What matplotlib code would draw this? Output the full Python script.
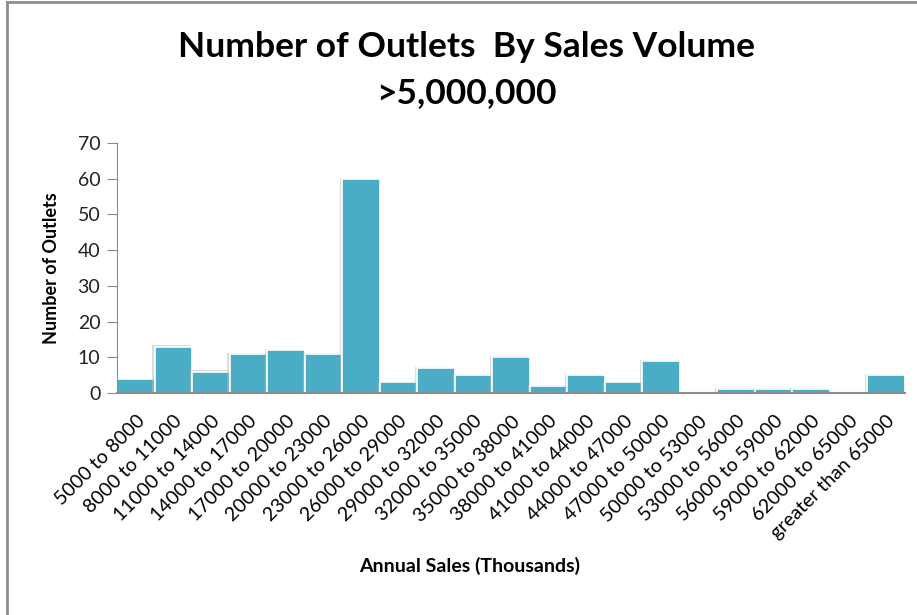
import numpy as np
import matplotlib.pyplot as plt
import matplotlib.patheffects as pe
from matplotlib.lines import Line2D

# data
categories = ['5000 to 8000', '8000 to 11000', '11000 to 14000', '14000 to 17000',
              '17000 to 20000', '20000 to 23000', '23000 to 26000', '26000 to 29000',
              '29000 to 32000', '32000 to 35000', '35000 to 38000', '38000 to 41000',
              '41000 to 44000', '44000 to 47000', '47000 to 50000', '50000 to 53000',
              '53000 to 56000', '56000 to 59000', '59000 to 62000', '62000 to 65000',
              'greater than 65000']
outlets = [4, 13, 6, 11, 12, 11, 60, 3, 7, 5, 10, 2, 5, 3, 9, 0, 1, 1, 1, 0, 5]
y_ticks = [0, 10, 20, 30, 40, 50, 60, 70]

plt.rcParams['font.family'] = ['Lato', 'DejaVu Sans']

fig = plt.figure(figsize=(9.17, 6.15), dpi=100)
ax = fig.add_axes([117 / 917, (615 - 393) / 615, (905 - 117) / 917, 250 / 615])

x = np.arange(len(categories))
bars = ax.bar(x, outlets, width=1.0, color='#4BACC6', edgecolor='white', linewidth=1.2,
              align='edge')
for b in bars:
    b.set_path_effects([pe.SimplePatchShadow(offset=(-1.5, 0.8), shadow_rgbFace='#bbbbbb', alpha=0.5),
                        pe.Normal()])

ax.set_xlim(0, len(categories))
ax.set_ylim(0, 70)
ax.set_yticks(y_ticks)
ax.set_xticks(x + 0.5)
ax.set_xticklabels(categories, rotation=45, ha='right', rotation_mode='anchor', fontsize=14)
ax.tick_params(axis='x', length=0, pad=14)
ax.tick_params(axis='y', length=7, color='#8c8c8c', labelsize=14, pad=5, labelcolor='#222222')

for s in ['top', 'right']:
    ax.spines[s].set_visible(False)
ax.spines['left'].set_color('#8c8c8c')
ax.spines['bottom'].set_color('#8c8c8c')
ax.spines['bottom'].set_linewidth(1.5)

ax.set_ylabel('Number of Outlets', fontsize=13, fontweight='bold', labelpad=13)
fig.text(470 / 917, 1 - 566 / 615, 'Annual Sales (Thousands)', fontsize=14, fontweight='bold',
         ha='center', va='center')

fig.text(466 / 917, 1 - 47 / 615, 'Number of Outlets  By Sales Volume', fontsize=25.5,
         fontweight='bold', ha='center', va='center')
fig.text(466 / 917, 1 - 93 / 615, '>5,000,000', fontsize=25.5,
         fontweight='bold', ha='center', va='center')

# grey frame on left and top edges
fig.add_artist(Line2D([7 / 917, 7 / 917], [0, 1 - 2 / 615], color='#8c8c8c', lw=2,
                      transform=fig.transFigure))
fig.add_artist(Line2D([7 / 917, 1], [1 - 2 / 615, 1 - 2 / 615], color='#8c8c8c', lw=2,
                      transform=fig.transFigure))

fig.savefig('out.png', dpi=100)
